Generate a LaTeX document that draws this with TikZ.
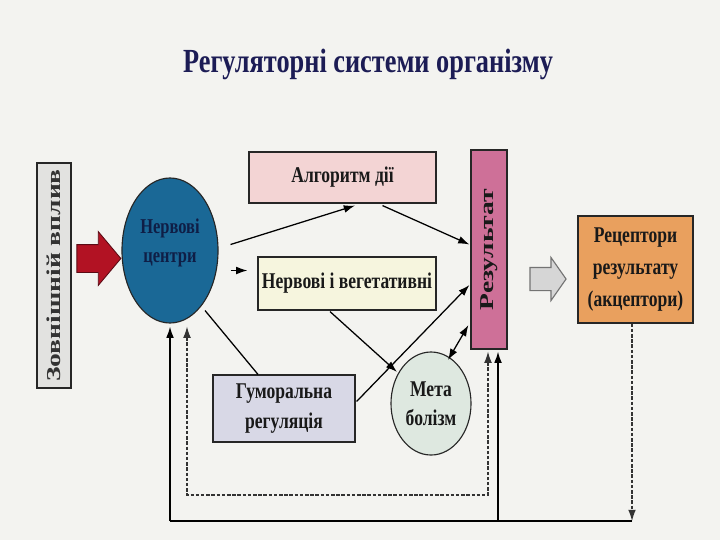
\documentclass[tikz,border=0pt]{standalone}
\usepackage{fontspec}
\setmainfont{Liberation Serif}[FakeStretch=0.78]
\newfontfamily\tallfont{Liberation Serif}[FakeStretch=1.4]
\usetikzlibrary{arrows.meta,shapes.geometric,shapes.arrows,calc,positioning}
\definecolor{bgc}{RGB}{243,243,240}
\definecolor{titlec}{RGB}{28,28,85}
\definecolor{extc}{RGB}{226,226,224}
\definecolor{redc}{RGB}{178,18,35}
\definecolor{ncc}{RGB}{26,104,150}
\definecolor{nctxt}{RGB}{15,30,70}
\definecolor{algoc}{RGB}{243,212,212}
\definecolor{vegc}{RGB}{246,245,222}
\definecolor{humc}{RGB}{216,216,230}
\definecolor{metac}{RGB}{222,232,224}
\definecolor{resc}{RGB}{206,112,152}
\definecolor{grayarr}{RGB}{214,214,214}
\definecolor{recc}{RGB}{233,160,94}
\tikzset{
  box/.style={draw=black!85, line width=0.8pt, inner sep=2pt, align=center,
    font=\fontsize{16}{21}\selectfont\bfseries, text=black!90},
  vbox/.style={box, rotate=90, font=\tallfont\fontsize{14}{16}\selectfont\bfseries},
  arr/.style={line width=0.9pt, -{Latex[length=8pt,width=5.5pt]}},
  dblarr/.style={line width=0.9pt, {Latex[length=8pt,width=5.5pt]}-{Latex[length=8pt,width=5.5pt]}},
  dasharr/.style={arr, black!80, line width=0.8pt, dash pattern=on 2.5pt off 1.2pt},
  dashdbl/.style={dblarr, black!80, line width=0.8pt, dash pattern=on 2.5pt off 1.2pt}
}
\begin{document}
\begin{tikzpicture}[x=0.025cm,y=-0.025cm]
\fill[bgc] (0,0) rectangle (720,540);
\useasboundingbox (0,0) rectangle (720,540);
\node[anchor=base, text=titlec, font=\fontsize{24}{26}\selectfont\bfseries] (title) at (368,72) {Регуляторні системи організму};
\node[vbox, fill=extc, minimum width=5.625cm, minimum height=0.85cm, text=black!80] (ext) at (54,275.5) {Зовнішній вплив};
\node[single arrow, draw={rgb,255:red,90;green,10;blue,20}, fill=redc, line width=0.6pt, inner xsep=0pt, inner ysep=0.3375cm,
  minimum height=1.1cm, single arrow head extend=0.325cm, single arrow tip angle=100] (push) at (93,258.5) {};
\node[ellipse, box, fill=ncc, text=nctxt, minimum width=2.4cm, minimum height=3.625cm, font=\fontsize{15}{20}\selectfont\bfseries] (nc) at (170,250.5) {Нервові\\центри\\[-6pt]};
\node[box, fill=algoc, minimum width=4.675cm, minimum height=1.275cm] (algo) at (342.5,177.5) {Алгоритм дії};
\node[box, fill=vegc, minimum width=4.45cm, minimum height=1.325cm] (veg) at (347,283.5) {Нервові і вегетативні};
\node[box, fill=humc, minimum width=3.55cm, minimum height=1.675cm] (hum) at (284,408.5) {Гуморальна\\регуляція};
\node[ellipse, box, fill=metac, inner sep=0pt, minimum width=2.0cm, minimum height=2.575cm] (meta) at (431,403.5) {Мета\\болізм};
\node[vbox, fill=resc, minimum width=4.975cm, minimum height=0.9cm] (res) at (489,249.5) {Результат};
\node[single arrow, draw=black!55, fill=grayarr, line width=0.8pt, inner xsep=0pt, inner ysep=0.275cm,
  minimum height=0.9cm, single arrow head extend=0.25cm, single arrow tip angle=110] (pass) at (544,279) {};
\node[box, fill=recc, minimum width=2.875cm, minimum height=2.675cm, font=\fontsize{16}{23}\selectfont\bfseries] (rec) at (635.5,269.5) {Рецептори\\результату\\(акцептори)};
\coordinate (bl) at (170,521);
\coordinate (bj) at (498,521);
\coordinate (br) at (632,521);
\coordinate (dl) at (187,495);
% res is turned: north is its left side, west its bottom
\draw[arr] ($(nc.east)+(12,-6)$) -- ($(algo.south)+(12.5,2)$);
\draw[arr] ($(algo.south)+(40,2)$) -- ($(res.north)+(-1,-5)$);
\draw[arr] ($(nc.east)+(12,20)$) -- ($(veg.west)+(-10,-13)$);
\draw[line width=0.9pt] ($(nc.center)+(35,60)$) -- ($(hum.north)+(-26,0)$);
\draw[arr] ($(veg.south)+(-17,1)$) -- ($(meta.center)+(-34,-31.5)$);
\draw[arr] ($(hum.east)+(1,-7)$) -- ($(res.north)+(-1,35.5)$);
\draw[dblarr] ($(meta.center)+(17,-43.5)$) -- ($(res.north)+(-2,75.5)$);
\draw[dashdbl] ($(nc.south)+(17,3)$) -- (dl) -| ($(res.west)+(-1,2)$);
\draw[dasharr] ($(rec.south)+(-3.5,0)$) -- (br);
\draw[line width=1pt] (br) -- (bl);
\draw[arr, line width=1pt] (bl) -- ($(nc.south)+(0,3)$);
\draw[arr, line width=1pt] (bj) -- ($(res.west)+(9,2)$);
\end{tikzpicture}
\end{document}
